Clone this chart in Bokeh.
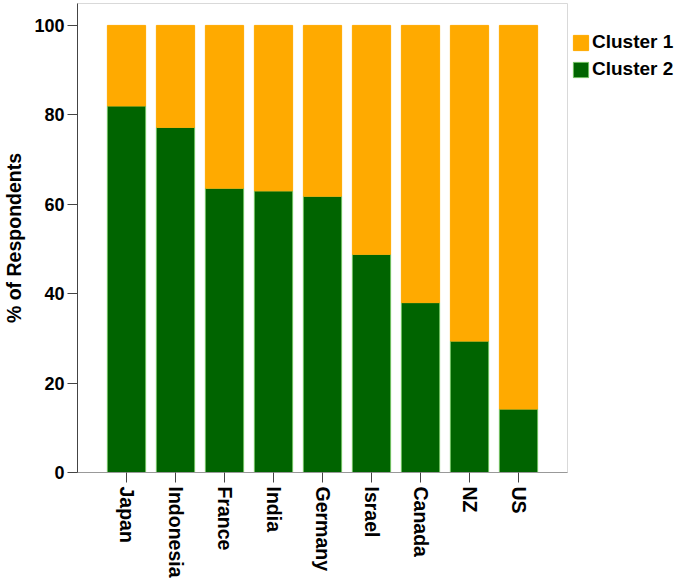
from bokeh.plotting import figure
from bokeh.models import (ColumnDataSource, FactorRange, Range1d, Legend, LegendItem,
                          FixedTicker)
from bokeh.embed import file_html
from bokeh.resources import INLINE
import math

countries = ["Japan", "Indonesia", "France", "India", "Germany", "Israel", "Canada", "NZ", "US"]
cluster2 = [82, 77.2, 63.6, 63.0, 61.8, 48.8, 38.0, 29.4, 14.2]
cluster1 = [100 - v for v in cluster2]
y_ticks = [0, 20, 40, 60, 80, 100]

ORANGE = "#FFAA00"
GREEN = "#006400"
FONT = "Liberation Sans"

src = ColumnDataSource(dict(country=countries, c2=cluster2, c1=cluster1))

p = figure(frame_width=490, frame_height=469, output_backend="svg", toolbar_location=None,
           x_range=FactorRange(factors=countries, range_padding=0.5, range_padding_units="absolute"),
           y_range=Range1d(0, 104.9),
           min_border_left=75, min_border_right=107, min_border_top=3, min_border_bottom=100)

rs = p.vbar_stack(["c2", "c1"], x="country", width=0.78, source=src,
                  color=[GREEN, ORANGE], line_color=["#6fbf5f", ORANGE], line_width=1)

p.xgrid.visible = False
p.ygrid.visible = False
p.outline_line_color = "#d9d9d9"
p.outline_line_width = 1
p.background_fill_color = "white"

# y axis
ya = p.yaxis[0]
ya.ticker = FixedTicker(ticks=y_ticks)
ya.axis_label = "% of Respondents"
ya.axis_label_text_font = FONT
ya.axis_label_text_font_style = "bold"
ya.axis_label_text_font_size = "19.5px"
ya.axis_label_text_color = "black"
ya.axis_label_standoff = 6
ya.major_label_text_font = FONT
ya.major_label_text_font_style = "bold"
ya.major_label_text_font_size = "18px"
ya.major_label_text_color = "black"
ya.major_label_standoff = 3
ya.major_tick_out = 10
ya.major_tick_in = 0
ya.minor_tick_out = 0
ya.minor_tick_in = 0
ya.axis_line_color = "#444444"
ya.major_tick_line_color = "#444444"

# x axis
xa = p.xaxis[0]
xa.major_label_orientation = -math.pi / 2
xa.major_label_text_font = FONT
xa.major_label_text_font_style = "bold"
xa.major_label_text_font_size = "19.5px"
xa.major_label_text_color = "black"
xa.major_label_standoff = 4
xa.major_tick_out = 10
xa.major_tick_in = 0
xa.axis_line_color = "#999999"
xa.major_tick_line_color = "#444444"

legend = Legend(items=[LegendItem(label="Cluster 1", renderers=[rs[1]]),
                       LegendItem(label="Cluster 2", renderers=[rs[0]])],
                location="top_left", margin=0, padding=4,
                title=" ", title_text_font_size="12px", title_standoff=10,
                glyph_width=19, glyph_height=19, label_standoff=2, spacing=5,
                label_text_font=FONT, label_text_font_style="bold",
                label_text_font_size="19px", label_text_color="black",
                border_line_alpha=0, background_fill_alpha=0)
p.add_layout(legend, "right")

open("out.html", "w").write(file_html(p, INLINE))
